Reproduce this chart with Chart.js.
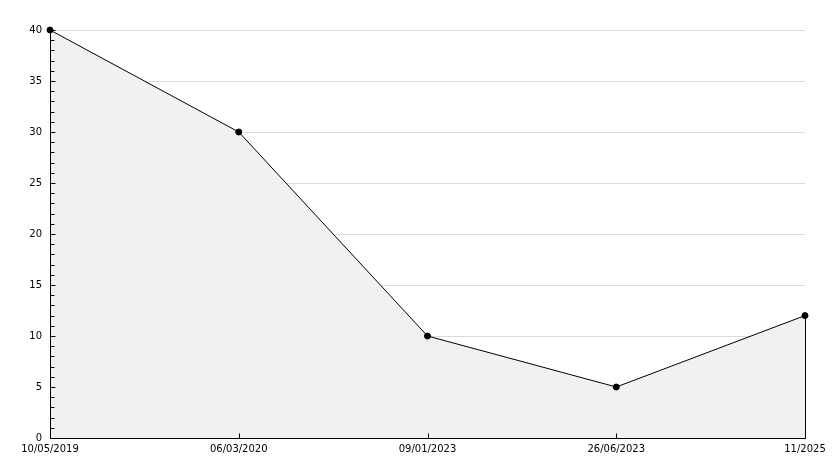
<!DOCTYPE html>
<html>
<head>
<meta charset="utf-8">
<script src="https://cdn.jsdelivr.net/npm/chart.js@4"></script>
<style>
html,body{margin:0;padding:0;background:#fff;}
#wrap{width:834px;height:468px;}
</style>
</head>
<body>
<div id="wrap"><canvas id="c" width="834" height="468"></canvas></div>
<script>
const categories = ['10/05/2019', '06/03/2020', '09/01/2023', '26/06/2023', '11/2025'];
const seriesValues = [40, 30, 10, 5, 12];
const yMin = 0, yMax = 40, yMajorStep = 5, yMinorStep = 1;

const axisPlugin = {
  id: 'axisPlugin',
  afterDatasetsDraw(chart) {
    const ctx = chart.ctx;
    const xs = chart.scales.x, ys = chart.scales.y;
    const a = chart.chartArea;
    ctx.save();
    ctx.strokeStyle = '#000';
    ctx.lineWidth = 1;
    ctx.beginPath();
    // axis lines
    const x0 = Math.round(a.left) + 0.5;
    const yb = Math.round(ys.getPixelForValue(yMin)) + 0.5;
    ctx.moveTo(x0, Math.round(ys.getPixelForValue(yMax)));
    ctx.lineTo(x0, yb);
    ctx.lineTo(Math.round(xs.getPixelForValue(categories.length - 1)) + 0.5, yb);
    // right edge of filled area
    const xr = Math.round(xs.getPixelForValue(categories.length - 1)) + 0.5;
    ctx.moveTo(xr, ys.getPixelForValue(seriesValues[seriesValues.length - 1]));
    ctx.lineTo(xr, yb);
    // y ticks (inward)
    for (let v = yMin; v <= yMax; v += yMinorStep) {
      const y = Math.round(ys.getPixelForValue(v)) + 0.5;
      const len = (v % yMajorStep === 0) ? 5 : 4;
      ctx.moveTo(x0, y);
      ctx.lineTo(x0 + len, y);
    }
    // x ticks (inward)
    for (let i = 0; i < categories.length; i++) {
      const x = Math.round(xs.getPixelForValue(i)) + 0.5;
      ctx.moveTo(x, yb);
      ctx.lineTo(x, yb - 5);
    }
    ctx.stroke();
    ctx.restore();
  }
};

new Chart(document.getElementById('c'), {
  type: 'line',
  data: {
    labels: categories,
    datasets: [{
      data: seriesValues,
      borderColor: '#000',
      borderWidth: 1,
      backgroundColor: '#f1f1f1',
      fill: 'origin',
      tension: 0,
      pointRadius: 3,
      pointBackgroundColor: '#000',
      pointBorderColor: '#000',
      pointBorderWidth: 1,
      clip: false
    }]
  },
  options: {
    responsive: false,
    animation: false,
    devicePixelRatio: 1,
    layout: { padding: { top: 30, right: 29, left: 0, bottom: 0 } },
    plugins: { legend: { display: false }, tooltip: { enabled: false } },
    scales: {
      x: {
        type: 'category',
        offset: false,
        grid: { display: false, drawTicks: false },
        border: { display: false },
        ticks: { color: '#000', font: { family: 'DejaVu Sans', size: 10 }, padding: 5, maxRotation: 0, autoSkip: false },
        afterFit(s) { s.height = 30; }
      },
      y: {
        min: yMin, max: yMax,
        grid: { color: '#dadada', lineWidth: 1, drawTicks: false },
        border: { display: false },
        ticks: { stepSize: yMajorStep, color: '#000', font: { family: 'DejaVu Sans', size: 10 }, padding: 8 },
        afterFit(s) { s.width = 50; }
      }
    }
  },
  plugins: [axisPlugin]
});
</script>
</body>
</html>
